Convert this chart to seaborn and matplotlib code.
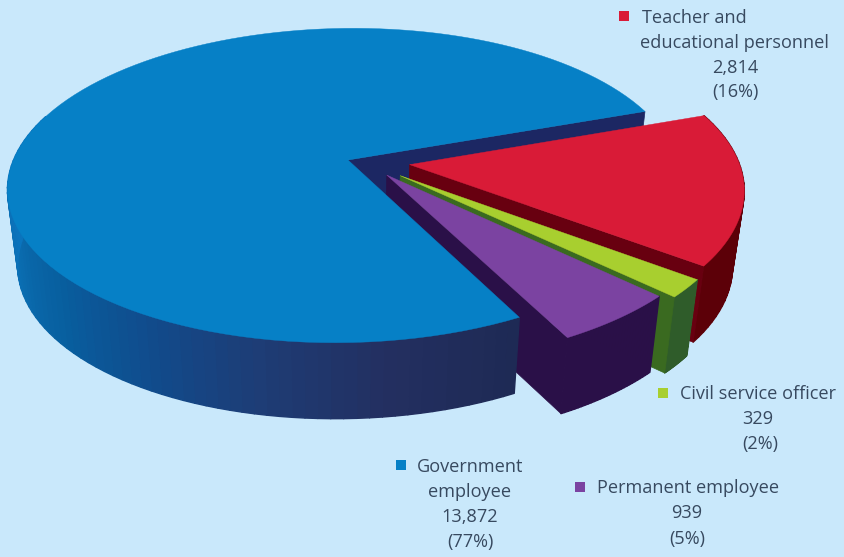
import numpy as np
import matplotlib
matplotlib.use("Agg")
import matplotlib.pyplot as plt
from matplotlib.collections import PolyCollection
import seaborn as sns

# Staff categories and head counts, in drawing order around the pie
categories = ["Teacher and\neducational personnel", "Civil service officer",
              "Permanent employee", "Government\nemployee"]
counts = [2814, 329, 939, 13872]

top_colors = ["#d91b37", "#a8cf2f", "#7b43a1", "#0680c6"]
side_colors = ["#5c0008", "#2f5c2a", "#2a1048", "#1c2a66"]
wall_colors = ["#680010", "#3a6a20", "#2a1048", "#1c2763"]
# How far each slice is pulled out, in disc radii (sideways, towards the viewer)
pull_x = [0.185, 0.155, 0.115, 0.0]
pull_y = [0.035, 0.105, 0.10, 0.0]

# Camera for the tilted disc, in pixels of the 844x557 canvas
APEX_U, APEX_V = 348.0, 160.0
RX, RY, PERSP, PERSP_X, TILT = 332.0, 153.0, 0.162, 0.012, -4.0
THICKNESS, CONVERGE, CONVERGE_U = 76.0, 0.97, 350.0
START_ANGLE = -18.2

BACKGROUND = "#c9e8fb"
TEXT = "#37495f"

sns.set_theme(style="white", rc={"figure.facecolor": BACKGROUND, "axes.facecolor": BACKGROUND})
plt.rcParams["font.family"] = ["Open Sans", "DejaVu Sans"]


def project(x, y):
    """Perspective projection of disc coordinates onto the top plane."""
    w = 1.0 - PERSP * y + PERSP_X * x
    return APEX_U + RX * x / w, APEX_V + (RY * y + TILT * x) / w


def drop(u, v):
    """Matching point on the lower face of the disc."""
    return CONVERGE_U + (u - CONVERGE_U) * CONVERGE, v + THICKNESS


def arc_points(a0, a1, offset, n=120):
    t = np.radians(np.linspace(a0, a1, n))
    return project(np.cos(t) + offset[0], np.sin(t) + offset[1])


fig = plt.figure(figsize=(8.44, 5.57), dpi=100)
ax = fig.add_axes([0, 0, 1, 1])
ax.set_xlim(0, 844)
ax.set_ylim(557, 0)
ax.axis("off")

spans = 360.0 * np.asarray(counts) / np.sum(counts)
ends = START_ANGLE + np.cumsum(spans)
starts = ends - spans


def draw_end_wall(i, offset):
    apex = project(offset[0], offset[1])
    u, v = arc_points(ends[i], ends[i], offset, 2)
    p = [apex, (u[0], v[0]), drop(u[0], v[0]), drop(*apex)]
    ax.fill(*zip(*p), color=wall_colors[i], lw=0.5)


def draw_top(i, offset):
    apex = project(offset[0], offset[1])
    u, v = arc_points(starts[i], ends[i], offset)
    ax.fill(np.r_[apex[0], u], np.r_[apex[1], v], color=top_colors[i], lw=0.3)


def draw_rim(a0, a1, offset, colors):
    u, v = arc_points(a0, a1, offset, len(colors) + 1)
    ub, vb = drop(u, v)
    quads = [[(u[k], v[k]), (u[k + 1], v[k + 1]), (ub[k + 1], vb[k + 1]), (ub[k], vb[k])]
             for k in range(len(colors))]
    ax.add_collection(PolyCollection(quads, facecolors=colors, edgecolors=colors, linewidths=1.0))


# The large slice's cut face sits behind the pulled-out slices
draw_end_wall(3, (0.0, 0.0))

for i in range(3):
    off = (pull_x[i], pull_y[i])
    draw_rim(starts[i], ends[i], off, [side_colors[i]] * 30)
    draw_end_wall(i, off)
    draw_top(i, off)

# Large slice last; only the front of its rim can be seen
rim_colors = sns.blend_palette(["#1e2a55", "#232f60", "#1e3c75", "#104c8d", "#085f9f",
                                "#0a6cb0", "#0b74bd", "#0b74bd"], 70)
draw_rim(starts[3], starts[3] + 135.0, (0.0, 0.0), rim_colors)
draw_top(3, (0.0, 0.0))

# Labels: swatch and first line, then the remaining centred lines
total = np.sum(counts)
label_layout = [
    ((624, 16), (642, 18), [735, 735, 735], [43, 68, 92]),
    ((663, 393), (680, 394), [758, 760], [419, 444]),
    ((580, 487), (597, 488), [687, 687], [513, 539]),
    ((401, 465), (417, 467), [470, 470, 470], [492, 517, 542]),
]
for i, (swatch, first, xs, ys) in enumerate(label_layout):
    lines = categories[i].split("\n")
    ax.scatter([swatch[0]], [swatch[1]], marker="s", s=62, color=top_colors[i], linewidths=0)
    ax.text(first[0], first[1], lines[0], ha="left", va="center", color=TEXT, fontsize=13.1)
    rest = lines[1:] + [f"{counts[i]:,}", f"({counts[i] / total:.0%})"]
    for line, x, y in zip(rest, xs, ys):
        ax.text(x, y, line, ha="center", va="center", color=TEXT, fontsize=13.1)

fig.savefig("out.png", dpi=100, facecolor=BACKGROUND)
